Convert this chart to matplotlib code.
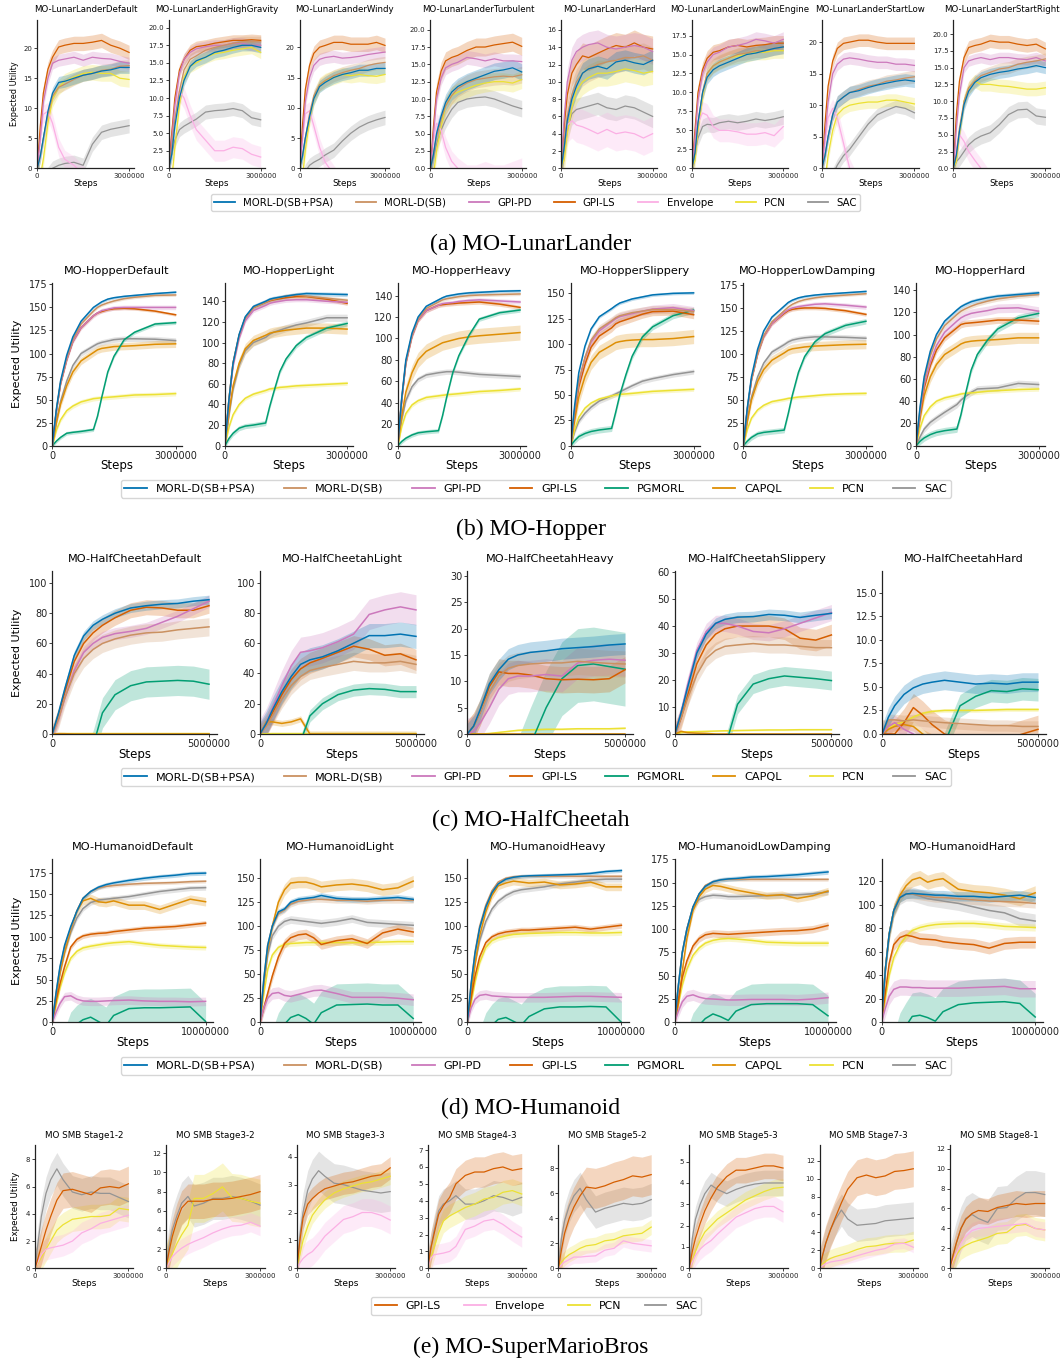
import numpy as np
import matplotlib
matplotlib.use("Agg")
import matplotlib.pyplot as plt
from matplotlib.lines import Line2D
from matplotlib.ticker import MultipleLocator

# ====================== DATA ======================
# each curve: (mean values at the step grid, half width of the shaded band)
LL_STEPS = [0, 1e5, 2e5, 3.5e5, 5e5, 7e5, 9e5, 1.2e6, 1.5e6, 1.8e6, 2.1e6, 2.4e6, 2.7e6, 3.0e6]
HOP_STEPS = [0, 1e5, 2e5, 3.5e5, 5e5, 7e5, 1.0e6, 1.1e6, 1.2e6, 1.35e6, 1.5e6, 1.75e6, 2.0e6, 2.5e6, 3.0e6]
HC_STEPS = [0, 2e5, 4e5, 7e5, 1.0e6, 1.3e6, 1.6e6, 2.0e6, 2.5e6, 3.0e6, 3.5e6, 4.0e6, 4.5e6, 5.0e6]
HUM_STEPS = [0, 2.5e5, 5e5, 8e5, 1.2e6, 1.6e6, 2.0e6, 2.5e6, 3.0e6, 3.5e6, 4.0e6, 5.0e6, 6.0e6, 7.0e6,
             8.0e6, 9.0e6, 10.0e6]
SMB_STEPS = [0, 1e5, 2e5, 3.5e5, 5e5, 7e5, 9e5, 1.2e6, 1.5e6, 1.8e6, 2.1e6, 2.4e6, 2.7e6, 3.0e6]

# ---- (a) MO-LunarLander ----
LL_DEFAULT = {
    "MORL-D(SB+PSA)": ([0, 2, 5, 9.5, 12.5, 14.3, 14.5, 15, 15.5, 15.8, 16.2, 16.4, 16.8, 16.8], 1.0),
    "MORL-D(SB)": ([0, 2, 5, 9, 12, 13.5, 14, 14.8, 15.5, 15.8, 16.3, 16.5, 17, 17.1], 1.0),
    "GPI-PD": ([0, 5, 11, 15, 17.5, 18, 18.2, 18.5, 18, 18.5, 18.3, 18.2, 17.8, 17.5], 1.0),
    "GPI-LS": ([0, 7, 12.5, 16.5, 18.5, 20.2, 20.5, 20.8, 20.8, 21.0, 21.3, 20.5, 20.0, 19.3], 1.2),
    "Envelope": ([0, 5, 9, 9.5, 7.5, 3.5, 1.5, 0.5, -1, -3, -5, -5, -5, -5], 1.5),
    "PCN": ([0, -1.5, 1.5, 7.5, 11.5, 13.5, 14.5, 15.2, 15.8, 16, 15.8, 15.8, 15, 14.8], 1.3),
    "SAC": ([-5, -5, -3, -1, 0, 0.5, 0.8, 1, 0.5, 4, 6, 6.5, 6.8, 7.1], 1.2),
}
LL_HIGHGRAVITY = {
    "MORL-D(SB+PSA)": ([0, 2, 6, 10, 12.5, 14.5, 15.3, 15.8, 16.5, 16.8, 17.2, 17.5, 17.5, 17.2], 0.8),
    "MORL-D(SB)": ([0, 3, 7, 11, 14, 15.5, 16, 16.8, 17.2, 17.5, 17.8, 18, 18, 18], 0.8),
    "GPI-PD": ([0, 4, 9, 13.5, 15.5, 16.5, 17, 17.3, 17.5, 17.5, 17.8, 17.8, 17.5, 17.5], 0.8),
    "GPI-LS": ([0, 5, 10, 14, 15.5, 16.8, 17.3, 17.5, 17.8, 18, 18.2, 18.2, 18.3, 18.2], 0.8),
    "Envelope": ([0, 5, 9, 11, 10, 7.5, 5.5, 4, 2.5, 2.5, 3, 2.8, 2, 1.6], 1.5),
    "PCN": ([0, -1.5, 3, 9, 13, 14.5, 15, 15.8, 16.3, 16.5, 16.8, 17, 17.2, 16.5], 0.9),
    "SAC": ([0, 2, 4, 5.5, 6, 6.5, 7, 8, 8.2, 8.3, 8.5, 8.2, 7.2, 6.9], 1.0),
}
LL_WINDY = {
    "MORL-D(SB+PSA)": ([0, 2, 5, 8.5, 11.5, 13.5, 14.2, 15, 15.5, 15.8, 16.2, 16.2, 16.5, 16.5], 1.0),
    "MORL-D(SB)": ([0, 2, 5, 9, 12, 13.8, 14.5, 15.3, 15.8, 16.2, 16.5, 17, 17.3, 17.5], 1.0),
    "GPI-PD": ([0, 5, 11, 15, 17, 18, 18.3, 18.5, 18.2, 18.3, 18.5, 18.8, 19, 19.2], 1.0),
    "GPI-LS": ([0, 7, 13, 17, 19, 20, 20.3, 20.8, 20.8, 20.5, 20.5, 20.5, 20.8, 20.3], 1.2),
    "Envelope": ([0, 5, 9, 9.5, 7, 3.5, 1, -1, -3, -5, -5, -5, -5, -5], 1.5),
    "PCN": ([0, -1.5, 3, 8, 11.5, 13.8, 14.5, 15, 15.5, 15.3, 15.5, 15.3, 15.2, 15.5], 1.2),
    "SAC": ([-3, -2, -0.5, 0.5, 1, 1.5, 2.2, 3, 4.5, 5.8, 6.8, 7.5, 8, 8.4], 1.2),
}
LL_TURBULENT = {
    "MORL-D(SB+PSA)": ([0, 2, 5, 7.5, 9.5, 11, 11.8, 12.5, 13, 13.5, 14, 14.2, 14.5, 13.9], 1.2),
    "MORL-D(SB)": ([0, 2, 4.5, 7, 9, 10.5, 11.5, 12.3, 12.8, 13, 13.2, 13.3, 13.2, 13.5], 1.2),
    "GPI-PD": ([0, 5, 10, 13, 14.5, 15, 15.3, 16, 15.8, 15.5, 15.8, 15.5, 15.5, 15.4], 1.0),
    "GPI-LS": ([0, 6, 11, 14, 15.5, 16, 16.3, 17, 17.5, 17.5, 17.8, 18, 18.2, 17.6], 1.3),
    "Envelope": ([0, 4, 6.5, 5.5, 3, 1, 0, -1, -1, -0.5, -1, -1, -0.5, 0], 1.5),
    "PCN": ([0, -1, 2.5, 6, 9, 10.5, 11, 11.5, 12, 12.3, 12.5, 12.5, 12.3, 12.8], 1.3),
    "SAC": ([0, 1.5, 3.5, 5.5, 7, 8.5, 9.5, 10, 10.2, 10.3, 10, 9.5, 9, 8.6], 1.2),
}
LL_HARD = {
    "MORL-D(SB+PSA)": ([0, 2.5, 5.5, 8, 9.5, 11, 11.5, 11.8, 11.5, 12.3, 12.5, 12.2, 12, 12.5], 1.2),
    "MORL-D(SB)": ([0, 3, 6, 8.5, 10, 11, 11.5, 12, 12.3, 12.5, 12.8, 12.8, 13, 12.5], 1.5),
    "GPI-PD": ([0, 6, 10, 12.5, 13.5, 14, 14.3, 14.5, 14, 13.8, 14, 14.2, 14, 13.5], 1.5),
    "GPI-LS": ([0, 5, 8.5, 11, 12, 13, 12.8, 13.3, 13.8, 14.2, 14, 14.5, 14, 13.8], 1.5),
    "Envelope": ([0, 3, 5, 5.5, 5, 4.8, 4.5, 4, 4.5, 4, 4.2, 4, 3.5, 4], 2.0),
    "PCN": ([0, 1, 4, 7, 9, 10, 10.5, 11, 11, 11.2, 11.5, 11.3, 11, 11.2], 1.5),
    "SAC": ([0, 2, 4.5, 6.3, 6.8, 7, 7.2, 7.5, 7, 6.8, 7.2, 7, 6.5, 6], 1.3),
}
LL_LOWMAIN = {
    "MORL-D(SB+PSA)": ([0, 2, 6, 10, 12, 13, 13.5, 14, 14.5, 15, 15.2, 15.5, 15.8, 16], 0.9),
    "MORL-D(SB)": ([0, 2, 6, 10, 12.5, 13.5, 14, 14.5, 15, 15.2, 15.5, 15.5, 15.8, 16], 0.9),
    "GPI-PD": ([0, 4, 9, 12.5, 14, 15, 15.3, 16, 16.2, 16.5, 17, 16.8, 16.5, 17], 1.0),
    "GPI-LS": ([0, 5, 10, 13, 14.5, 15.3, 15.5, 16, 16.2, 16, 16.2, 16.3, 16.5, 16.5], 1.0),
    "Envelope": ([0, 3, 6, 7.3, 7, 5.5, 5, 5, 4.8, 4.5, 4.5, 4.7, 4.3, 5.5], 1.5),
    "PCN": ([0, 1, 5, 9.5, 12.5, 13.5, 14, 14.5, 14.8, 15, 15.3, 15.3, 15.5, 15.5], 1.0),
    "SAC": ([0, 2, 4, 5.5, 5.8, 5.7, 6, 6.2, 6, 6.2, 6.5, 6.3, 6.5, 6.8], 1.0),
}
LL_STARTLOW = {
    "MORL-D(SB+PSA)": ([0, 2, 5, 8.5, 10.5, 11.3, 12, 12.3, 12.8, 13.2, 13.5, 13.8, 14, 13.8], 1.0),
    "MORL-D(SB)": ([0, 2, 5, 8.5, 10.5, 11.3, 12, 12.5, 13, 13.3, 13.8, 14, 14.3, 14.5], 1.0),
    "GPI-PD": ([0, 5, 10.5, 15, 16.5, 17.3, 17.5, 17.3, 17, 16.8, 16.8, 16.5, 16.5, 16.3], 1.0),
    "GPI-LS": ([0, 7, 13, 17, 19, 19.8, 20, 20.3, 20.3, 20, 19.8, 19.8, 19.8, 19.8], 1.0),
    "Envelope": ([0, 4, 8, 9.5, 8, 4, 0, -3, -5, -5, -5, -5, -5, -5], 1.5),
    "PCN": ([0, -2, 2, 6, 8.5, 9.5, 10, 10.3, 10.5, 10.5, 10.8, 10.8, 10.5, 10.2], 1.0),
    "SAC": ([-5, -5, -3, -1, 0.5, 2, 3, 5, 7, 8.5, 9.2, 9.8, 9.5, 8.8], 1.0),
}
LL_STARTRIGHT = {
    "MORL-D(SB+PSA)": ([0, 2, 5.5, 9.5, 11.5, 12.8, 13.5, 14, 14.3, 14.5, 14.8, 15, 15.3, 15], 0.9),
    "MORL-D(SB)": ([0, 2, 6, 10, 12, 13, 13.8, 14.3, 14.8, 15, 15.5, 15.8, 16, 16.3], 0.9),
    "GPI-PD": ([0, 6, 11, 15, 16, 16.3, 16.5, 16.2, 16.5, 16.5, 16.3, 16.2, 16.5, 16], 0.8),
    "GPI-LS": ([0, 8, 13, 16.5, 18, 18.3, 18.5, 19, 18.8, 18.8, 18.5, 18.3, 18.5, 17.8], 1.0),
    "Envelope": ([0, 3, 5, 4, 2.5, 1.2, 0, -2, -4, -5, -5, -5, -5, -5], 1.5),
    "PCN": ([0, 1, 5, 10, 12, 13, 12.5, 12.5, 12.3, 12.2, 12, 11.8, 11.8, 12], 1.0),
    "SAC": ([0, 1, 1.5, 2.5, 3.5, 4.3, 4.8, 5.3, 6.5, 8, 8.7, 8.8, 7.8, 7.6], 1.2),
}

# ---- (b) MO-Hopper ----
HOP_DEFAULT = {
    "MORL-D(SB+PSA)": ([0, 40, 70, 98, 118, 135, 150, 153, 156, 159, 160.5, 162, 163, 165, 166.5], 1.5),
    "MORL-D(SB)": ([0, 38, 68, 95, 115, 132, 146, 150, 152.5, 155, 157, 159.5, 161, 163, 163.5], 1.5),
    "GPI-PD": ([0, 38, 67, 93, 113, 128, 141, 144, 146.5, 148, 149.5, 150, 150, 150, 150], 2.5),
    "GPI-LS": ([0, 38, 67, 93, 113, 128, 141, 144, 145.5, 147.5, 148.5, 149, 148.5, 146, 142], 1.5),
    "PGMORL": ([0, 5, 9, 13.5, 14.5, 15.5, 17.5, 32, 52, 80, 97, 115, 123, 132, 133.5], 2.0),
    "CAPQL": ([0, 25, 45, 65, 80, 92, 101, 104, 105.5, 106.5, 107.5, 108, 108.5, 110, 110.5], 4.0),
    "PCN": ([0, 17, 28, 38, 43, 47.5, 51, 51.5, 52, 52.5, 53, 54, 55, 55.5, 56.5], 2.5),
    "SAC": ([0, 27, 48, 70, 87, 100, 108, 110.5, 112, 113.5, 115, 116, 116, 115.5, 114], 3.0),
}
HOP_LIGHT = {
    "MORL-D(SB+PSA)": ([0, 45, 80, 108, 125, 135, 140, 142, 143, 144, 145, 146.5, 147.5, 147, 146.5], 2.0),
    "MORL-D(SB)": ([0, 45, 80, 107, 124, 134, 139, 141, 142, 143.5, 145, 146, 145, 143, 141], 2.0),
    "GPI-PD": ([0, 43, 77, 104, 121, 131, 136, 138, 139, 140, 141, 141.5, 141.5, 140, 139], 2.0),
    "GPI-LS": ([0, 45, 80, 107, 124, 134, 139, 140.5, 141.5, 142.5, 143.5, 144.5, 144.5, 142, 138], 2.0),
    "PGMORL": ([0, 7, 12, 17, 19, 20, 22, 38, 52, 72, 84, 97, 105, 114, 118.5], 2.5),
    "CAPQL": ([0, 32, 58, 80, 94, 102, 107, 109, 110, 111, 112, 113, 114, 114, 113], 5.0),
    "PCN": ([0, 18, 30, 40, 46, 50, 53.5, 55, 55.5, 56.5, 57, 58, 58.5, 59.5, 60.5], 2.0),
    "SAC": ([0, 30, 55, 78, 92, 100, 105, 108, 110, 112, 114, 117, 119, 124, 124], 3.5),
}
HOP_HEAVY = {
    "MORL-D(SB+PSA)": ([0, 45, 80, 105, 120, 130, 136, 138, 139.5, 140.5, 141.5, 142.5, 143, 144, 144.5], 1.5),
    "MORL-D(SB)": ([0, 44, 78, 103, 118, 128, 134, 136, 137, 138, 139, 140, 140.5, 141, 141.5], 1.5),
    "GPI-PD": ([0, 43, 77, 102, 117, 126, 131, 132.5, 133, 133.5, 134.5, 135.5, 136, 135, 134], 2.0),
    "GPI-LS": ([0, 43, 77, 102, 117, 126, 131, 131.5, 132, 132.5, 133, 133.5, 134, 132, 129], 2.0),
    "PGMORL": ([0, 4, 7, 10, 12, 13, 14, 28, 45, 68, 84, 103, 118, 124, 126.5], 2.0),
    "CAPQL": ([0, 28, 50, 68, 80, 88, 94, 96, 97, 98.5, 100, 101.5, 102.5, 104, 105.5], 7.0),
    "PCN": ([0, 18, 30, 38, 42, 45, 46.5, 47, 47.5, 48, 48.5, 49.5, 50.5, 51.5, 53], 2.0),
    "SAC": ([0, 25, 42, 55, 62, 66, 68, 68.5, 69, 69, 68.5, 67.5, 66.5, 65.5, 64.5], 2.5),
}
HOP_SLIPPERY = {
    "MORL-D(SB+PSA)": ([0, 40, 72, 98, 115, 127, 135, 138, 140.5, 142.5, 144.5, 146.5, 148.5, 150, 150.5], 1.5),
    "MORL-D(SB)": ([0, 36, 64, 87, 104, 115, 123, 126, 128, 129.5, 131, 132.5, 134, 134, 132], 4.0),
    "GPI-PD": ([0, 35, 62, 86, 102, 113, 122, 125, 127, 128.5, 130, 132.5, 134.5, 136, 133], 4.0),
    "GPI-LS": ([0, 32, 58, 80, 97, 108, 116, 120, 122, 124, 126, 129.5, 132, 132.5, 129], 4.0),
    "PGMORL": ([0, 5, 9, 12, 14, 15.5, 17, 33, 50, 70, 88, 107, 117, 128, 133.5], 3.0),
    "CAPQL": ([0, 25, 48, 68, 82, 92, 99, 101.5, 102.5, 103.5, 104, 104.5, 104.5, 105.5, 107.5], 7.0),
    "PCN": ([0, 16, 28, 37, 42, 46, 49, 50, 50.5, 51, 51.5, 52.5, 53.5, 54.5, 55.5], 2.0),
    "SAC": ([0, 14, 24, 32, 38, 44, 49, 51, 53, 56, 59, 63.5, 66, 70, 73], 2.5),
}
HOP_LOWDAMPING = {
    "MORL-D(SB+PSA)": ([0, 42, 75, 105, 125, 140, 152, 156, 158.5, 161, 162.5, 164, 165, 166.5, 168], 1.5),
    "MORL-D(SB)": ([0, 40, 72, 100, 120, 135, 147, 151, 154, 157, 159, 161, 162.5, 164, 165.5], 1.5),
    "GPI-PD": ([0, 40, 72, 100, 119, 133, 145, 148, 150, 151.5, 152.5, 154, 154.5, 153, 151], 2.5),
    "GPI-LS": ([0, 40, 72, 100, 119, 133, 144, 147, 148.5, 149.5, 150, 150, 149.5, 147, 143], 2.0),
    "PGMORL": ([0, 5, 9, 13, 14.5, 15.5, 17, 35, 55, 80, 97, 113, 122, 131, 135.5], 3.0),
    "CAPQL": ([0, 27, 50, 70, 83, 93, 101, 104, 105.5, 106.5, 107.5, 108.5, 109, 110, 110.5], 5.0),
    "PCN": ([0, 18, 30, 39, 44, 48, 50.5, 51.5, 52, 53, 53.5, 54.5, 55.5, 56.5, 57], 2.0),
    "SAC": ([0, 29, 53, 75, 90, 102, 110, 113, 115, 116.5, 117.5, 118.5, 118.5, 118, 117], 3.0),
}
HOP_HARD = {
    "MORL-D(SB+PSA)": ([0, 35, 62, 85, 100, 112, 122, 125, 127, 129.5, 131, 133, 134.5, 136, 137.5], 2.0),
    "MORL-D(SB)": ([0, 33, 59, 81, 96, 108, 118, 121, 123, 125.5, 127.5, 130, 132, 134.5, 136], 2.0),
    "GPI-PD": ([0, 30, 55, 75, 90, 102, 112, 115, 117, 119, 120, 121.5, 123.5, 124, 121], 4.0),
    "GPI-LS": ([0, 28, 52, 72, 86, 97, 106, 109, 110, 110.5, 111, 112, 113, 113, 112], 3.0),
    "PGMORL": ([0, 4, 7, 10, 12, 13.5, 15, 28, 45, 68, 82, 95, 105, 115, 119], 3.0),
    "CAPQL": ([0, 25, 45, 62, 73, 82, 89, 91.5, 93, 94, 94.5, 95, 95.5, 97, 97], 5.0),
    "PCN": ([0, 16, 27, 35, 40, 43, 45.5, 46.5, 47, 47.5, 48, 49, 49.5, 50.5, 51], 2.0),
    "SAC": ([0, 8, 15, 21, 25, 30, 37, 41, 44, 48, 51, 51.5, 52, 56, 55], 3.0),
}

# ---- (c) MO-HalfCheetah ----
HC_DEFAULT = {
    "MORL-D(SB+PSA)": ([0, 14, 30, 52, 65, 72, 76, 80, 83.5, 85, 86, 86.5, 88, 89], 3.0),
    "MORL-D(SB)": ([0, 10, 24, 40, 50, 56, 60, 63, 65.5, 67, 67.5, 69, 70, 71], 6.0),
    "GPI-PD": ([0, 10, 24, 42, 54, 60, 64, 66.5, 68, 70, 74, 78, 83, 88], 4.0),
    "GPI-LS": ([0, 13, 28, 48, 60, 67, 72, 77, 82, 84, 83.5, 82, 82, 85], 5.0),
    "PGMORL": ([-20, -20, -20, -20, -20, -8, 14, 26, 32, 34.5, 35, 35.5, 35, 33], 10.0),
    "CAPQL": ([0, 0.3, 0.2, 0, 0, 0, 0, 0, 0, 0, 0, 0, 0, 0], 0.3),
    "PCN": ([0, 0.2, 0.3, 0.3, 0.3, 0.3, 0.3, 0.3, 0.3, 0.3, 0.3, 0.3, 0.3, 0.3], 0.2),
}
HC_LIGHT = {
    "MORL-D(SB+PSA)": ([0, 7, 16, 28, 38, 46, 49, 51, 55, 60, 65, 65, 66, 64.5], 8.0),
    "MORL-D(SB)": ([0, 5, 12, 23, 32, 38, 42, 44, 46, 48, 47, 47, 48, 46], 6.0),
    "GPI-PD": ([0, 7, 17, 32, 45, 54, 55, 57, 61, 66, 79, 82, 84, 82], 10.0),
    "GPI-LS": ([0, 6, 14, 26, 36, 43, 47, 50, 54, 58, 56, 52, 53, 49], 7.0),
    "PGMORL": ([-20, -20, -20, -20, -20, -5, 12, 20, 26, 29, 30, 29.5, 28, 28], 4.0),
    "CAPQL": ([0, 8, 8, 7, 8, 10, 0, 0, 0, 0, 0, 0, 0, 0], 2.0),
    "PCN": ([0, 0.2, 0.3, 0.3, 0.3, 0.3, 0.3, 0.3, 0.3, 0.3, 0.3, 0.3, 0.3, 0.3], 0.2),
}
HC_HEAVY = {
    "MORL-D(SB+PSA)": ([0, 1.5, 4.5, 9.5, 12.2, 14.2, 15, 15.5, 15.8, 16.2, 16.4, 16.6, 16.9, 17.1], 2.0),
    "MORL-D(SB)": ([0, 1.5, 4, 8, 11, 12.5, 13, 13.3, 13.5, 13.5, 13.8, 13.6, 13.4, 13.3], 2.5),
    "GPI-PD": ([0, 0.5, 2, 5, 8.5, 10.5, 11, 11, 11.3, 11, 13.5, 14, 14.2, 14], 3.0),
    "GPI-LS": ([0, 1.5, 4, 9, 11.8, 11.5, 11.5, 11.2, 10.5, 10.3, 10.4, 10.3, 10.5, 12.2], 2.5),
    "PGMORL": ([-10, -10, -10, -10, -10, -10, -8, -2, 5, 10.5, 13, 13.3, 12.8, 12.3], 7.0),
    "CAPQL": ([0, 0, 0, 0, 0, 0, 0, 0, 0, 0, 0, 0, 0, 0], 0.2),
    "PCN": ([0, 0, 0, 0.1, 0.3, 0.5, 0.7, 0.8, 0.9, 0.9, 1, 1, 1, 1.1], 0.2),
}
HC_SLIPPERY = {
    "MORL-D(SB+PSA)": ([0, 8, 17, 30, 37, 41, 42.5, 43.3, 43.5, 44.3, 44, 43.2, 44, 44.7], 2.0),
    "MORL-D(SB)": ([0, 6, 13, 22, 28, 31, 32.5, 33, 33.5, 33, 33, 32.5, 32, 32], 3.0),
    "GPI-PD": ([0, 8, 18, 31, 38, 41, 41, 40, 38, 37.5, 39, 41, 43, 45], 3.0),
    "GPI-LS": ([0, 6, 14, 26, 33, 37, 39, 40, 40, 40, 39, 35.5, 34.8, 36.7], 4.0),
    "PGMORL": ([-10, -10, -10, -10, -10, -10, -5, 11, 18.5, 20.5, 21.5, 21, 20.5, 19.8], 3.5),
    "CAPQL": ([0, 1, 0.5, 0.3, 0.2, 0, 0, 0, 0, 0, 0, 0, 0, 0], 0.5),
    "PCN": ([0, 0.5, 0.8, 0.9, 1, 1.1, 1.2, 1.3, 1.4, 1.5, 1.5, 1.6, 1.6, 1.6], 0.3),
}
HC_HARD = {
    "MORL-D(SB+PSA)": ([0, 1.8, 3.0, 4.2, 4.9, 5.3, 5.5, 5.7, 5.5, 5.3, 5.4, 5.3, 5.5, 5.5], 1.0),
    "MORL-D(SB)": ([0, 1.5, 1.5, 1.4, 1.5, 1.4, 1.3, 1.2, 1.1, 1.0, 0.9, 0.9, 0.8, 0.8], 0.6),
    "GPI-PD": ([0, 0.8, 1.2, 0.5, 0, -1, -1, -1, -1, -1, -1, -1, -1, -1], 0.8),
    "GPI-LS": ([0, 0, 0, 1.2, 2.8, 2, 1, 0, -0.5, -0.5, -0.5, -0.5, 0, 0.5], 1.5),
    "PGMORL": ([-3, -3, -3, -3, -3, -3, -3, -1, 3, 4, 4.6, 4.5, 4.8, 4.7], 1.2),
    "CAPQL": ([0, 0.5, 0.8, 1.0, 0.8, 0, -0.5, -0.5, -0.5, -0.5, -0.5, -0.5, -0.5, -0.5], 0.5),
    "PCN": ([0, 0.6, 1, 1.3, 1.8, 2.2, 2.4, 2.5, 2.5, 2.5, 2.55, 2.6, 2.6, 2.6], 0.2),
}

# ---- (d) MO-Humanoid ----
HUM_DEFAULT = {
    "MORL-D(SB+PSA)": ([0, 35, 65, 90, 112, 130, 145, 153, 158, 161, 163, 166, 168.5, 170.5, 172, 174, 174.5], 2.5),
    "MORL-D(SB)": ([0, 35, 64, 88, 110, 130, 145, 153, 157, 159, 160, 161.5, 162.5, 163, 163.5, 164.5, 165], 2.0),
    "GPI-PD": ([0, 12, 22, 30, 31, 27, 25, 24.5, 24.5, 25, 25.5, 26, 25, 24.5, 24.5, 24, 24.5], 5.0),
    "GPI-LS": ([0, 25, 45, 65, 88, 97, 101, 103, 104, 104.5, 106, 108, 110, 111, 112, 114, 116], 3.0),
    "PGMORL": ([-30, -30, -30, -30, -10, -2, 3, 6, 1, -4, 8, 16, 17, 17, 17.5, 18, 1], 22.0),
    "CAPQL": ([0, 30, 58, 82, 108, 130, 142, 145, 141, 140, 142, 137, 137, 132, 138, 144, 141], 5.0),
    "PCN": ([0, 20, 40, 58, 75, 83, 87, 89, 90.5, 92, 93, 94.3, 92, 90, 89, 88, 87.5], 3.0),
    "SAC": ([0, 30, 58, 82, 105, 122, 133, 140, 143, 144, 145, 147, 150, 153, 155, 157, 157.5], 3.0),
}
HUM_LIGHT = {
    "MORL-D(SB+PSA)": ([0, 45, 80, 100, 115, 118, 125, 128, 129, 130, 132, 129, 128, 128, 129, 130, 128], 3.0),
    "MORL-D(SB)": ([0, 45, 80, 100, 113, 117, 123, 126, 127, 128, 128, 127, 127, 126, 127, 127, 127], 3.0),
    "GPI-PD": ([0, 15, 25, 30, 31, 28, 27, 29, 31, 33, 33.5, 30, 26, 26, 26, 25, 23.5], 6.0),
    "GPI-LS": ([0, 15, 30, 48, 68, 82, 88, 91, 92, 88, 81, 85, 87, 82, 93, 97, 94], 5.0),
    "PGMORL": ([-30, -30, -30, -30, -12, -2, 5, 8, 4, -2, 10, 18, 18.5, 19, 18, 18, 4], 22.0),
    "CAPQL": ([0, 40, 75, 100, 125, 138, 145, 146, 146, 144, 141, 143, 144, 142, 138, 140, 147], 6.0),
    "PCN": ([0, 30, 55, 70, 78, 81, 82, 82.5, 83, 83, 83, 83, 83, 83, 83.5, 84, 84], 3.0),
    "SAC": ([0, 40, 70, 90, 100, 105, 107, 106, 105, 104, 103, 105, 108, 104, 103, 102, 101], 4.0),
}
HUM_HEAVY = {
    "MORL-D(SB+PSA)": ([0, 40, 72, 98, 120, 135, 144, 149, 151, 152, 152.5, 153, 153.5, 154, 155, 157, 158], 2.0),
    "MORL-D(SB)": ([0, 40, 73, 100, 122, 137, 146, 150, 151.5, 152, 152, 152, 152, 152, 152, 152, 152], 2.0),
    "GPI-PD": ([0, 15, 24, 28, 29, 27.5, 27, 26.5, 26, 26, 26, 26, 26.5, 27, 27, 26.5, 26], 5.0),
    "GPI-LS": ([0, 25, 48, 68, 83, 89, 92, 94, 95, 96, 96, 97, 98, 99, 97, 99, 101], 3.0),
    "PGMORL": ([-30, -30, -30, -30, -12, -3, 3, 5, 1, -3, 6, 14, 16, 16, 16.5, 16, 0], 22.0),
    "CAPQL": ([0, 30, 60, 90, 115, 132, 142, 145, 147, 146, 145, 146, 143, 144, 146, 141, 141], 4.0),
    "PCN": ([0, 20, 42, 62, 78, 85, 88, 90, 91.5, 92, 92.5, 93, 93.5, 93.5, 93, 93, 93.5], 3.0),
    "SAC": ([0, 35, 62, 85, 105, 118, 126, 132, 136, 138, 139, 141, 144, 146, 148, 149, 149], 3.0),
}
HUM_LOWDAMPING = {
    "MORL-D(SB+PSA)": ([0, 40, 75, 100, 124, 138, 146, 151, 153, 154, 154.5, 156, 156.5, 157.5, 158.5, 160, 161.5], 2.5),
    "MORL-D(SB)": ([0, 40, 75, 100, 124, 138, 147, 151, 153, 153.5, 153.5, 153.5, 153.5, 153.5, 153.5, 153.5, 153.5], 2.0),
    "GPI-PD": ([0, 12, 22, 28, 29.5, 27, 25.5, 25, 24.5, 24, 24, 24.5, 24.5, 24.5, 24, 25, 26.5], 6.0),
    "GPI-LS": ([0, 25, 48, 66, 82, 90, 94, 95.5, 95, 94.5, 95, 96, 97, 98, 98.5, 100, 104], 4.0),
    "PGMORL": ([-30, -30, -30, -30, -12, -3, 4, 9, 6, 2, 12, 19, 20, 20, 20, 19, 7], 22.0),
    "CAPQL": ([0, 20, 55, 90, 120, 135, 143, 147, 146, 144, 142, 139, 136, 137, 133, 136, 141], 4.0),
    "PCN": ([0, 20, 40, 57, 72, 80, 85, 88, 89.5, 90, 89.5, 88, 86, 85.5, 85, 85, 85], 3.0),
    "SAC": ([0, 40, 75, 100, 124, 132, 135, 136.5, 136, 135, 135, 135.5, 136, 136.5, 137, 138, 140], 3.0),
}
HUM_HARD = {
    "MORL-D(SB+PSA)": ([0, 45, 75, 95, 106, 109, 109.5, 109, 108.5, 108, 108, 107, 107, 106, 107, 108, 106], 4.0),
    "MORL-D(SB)": ([0, 45, 75, 95, 106, 109, 109, 108, 107, 106, 106, 105, 104, 103, 102.5, 102, 101], 4.0),
    "GPI-PD": ([0, 12, 22, 28, 30, 30, 29.5, 29.5, 29, 29, 29, 29, 29.5, 30, 30.5, 28.5, 28.5], 7.0),
    "GPI-LS": ([0, 25, 50, 66, 72, 74, 73, 71, 70.5, 70, 68.5, 67, 66, 63, 67, 68, 68], 5.0),
    "PGMORL": ([-30, -30, -30, -30, -12, -3, 5, 6, 4, 1, 9, 15, 16.5, 17, 17.5, 16, 4.5], 20.0),
    "CAPQL": ([0, 45, 75, 95, 108, 116, 121, 123, 119, 121, 122, 113, 111, 110, 108, 105, 110], 6.0),
    "PCN": ([0, 20, 40, 55, 66, 73, 78, 80.5, 82, 83, 83.5, 84, 84, 83, 81.5, 81, 80.5], 3.0),
    "SAC": ([0, 45, 75, 95, 106, 109, 109, 107, 105, 104, 103, 101, 98, 95, 93, 88, 86], 6.0),
}

# ---- (e) MO-SuperMarioBros ----
SMB_1_2 = {
    "GPI-LS": ([0, 0.8, 1.6, 2.8, 3.8, 5.0, 5.7, 5.8, 5.6, 5.4, 5.9, 6.0, 5.9, 6.2], 1.3),
    "Envelope": ([0, 0.5, 1, 1.4, 1.5, 1.6, 1.7, 2.0, 2.6, 2.9, 3.3, 3.5, 3.7, 3.9], 0.8),
    "PCN": ([0, 0.4, 0.8, 1.4, 2.0, 2.8, 3.2, 3.6, 3.7, 3.8, 3.8, 3.9, 4.4, 4.3], 0.9),
    "SAC": ([0, 2, 3.8, 5.5, 6.5, 7.3, 6.5, 5.6, 5.4, 5.6, 5.5, 5.5, 5.2, 4.9], 1.2),
}
SMB_3_2 = {
    "GPI-LS": ([0, 1.8, 3.3, 5, 6.3, 7, 7.0, 7.0, 7.2, 7.2, 7.3, 7.5, 7.7, 8.0], 1.8),
    "Envelope": ([0, 0.6, 1.2, 1.7, 2.1, 2.5, 2.8, 3.2, 3.7, 4.1, 4.4, 4.5, 4.8, 4.4], 1.0),
    "PCN": ([0, 0.8, 1.5, 2.6, 3.5, 4.5, 7.3, 7.3, 7.8, 8.5, 7.4, 7.3, 7.0, 6.8], 2.5),
    "SAC": ([0, 2.3, 4, 5.5, 6.8, 7.5, 6.5, 6.8, 7.3, 7.3, 7.5, 7.3, 7.0, 6.6], 2.2),
}
SMB_3_3 = {
    "GPI-LS": ([0, 1.0, 1.8, 2.3, 2.5, 2.7, 2.85, 2.95, 3.05, 3.1, 3.2, 3.3, 3.35, 3.6], 0.4),
    "Envelope": ([0, 0.2, 0.35, 0.5, 0.6, 0.85, 1.15, 1.45, 1.75, 1.85, 2.0, 2.0, 1.9, 1.73], 0.5),
    "PCN": ([0, 0.5, 1.0, 1.5, 1.9, 2.2, 2.45, 2.7, 2.85, 2.95, 3.05, 3.1, 3.2, 3.3], 0.3),
    "SAC": ([0, 1.2, 2, 2.8, 3.2, 3.5, 3.3, 3.05, 3.0, 2.9, 2.8, 2.75, 2.7, 2.75], 0.7),
}
SMB_4_3 = {
    "GPI-LS": ([0, 1.2, 2.0, 3.2, 3.7, 4.2, 5.0, 5.5, 5.7, 5.7, 5.9, 6.0, 5.8, 5.9], 0.9),
    "Envelope": ([0, 0.6, 0.8, 0.85, 0.9, 1.0, 1.3, 2.3, 2.5, 2.8, 2.9, 2.6, 2.2, 1.85], 0.6),
    "PCN": ([0, 0.6, 1.2, 2.1, 2.8, 3.1, 3.3, 3.6, 3.8, 4.1, 4.2, 4.5, 4.6, 4.4], 0.7),
    "SAC": ([0, 1.2, 2.2, 3.4, 3.8, 4.0, 4.3, 3.8, 3.8, 4.0, 4.3, 4.2, 4.0, 4.2], 0.9),
}
SMB_5_2 = {
    "GPI-LS": ([0, 1.5, 2.8, 4.0, 4.9, 5.8, 6.5, 6.4, 6.6, 6.9, 7.1, 7.4, 7.3, 7.5], 1.6),
    "Envelope": ([0, 0.3, 0.5, 0.7, 0.9, 0.9, 0.95, 1.0, 1.45, 1.6, 2.2, 2.0, 1.9, 1.8], 0.5),
    "PCN": ([0, 0.5, 0.8, 1.1, 1.3, 1.6, 1.8, 1.9, 2.2, 2.3, 2.6, 2.7, 2.8, 3.3], 0.6),
    "SAC": ([0, 2.4, 3.8, 5.0, 5.8, 6.4, 5.5, 4.5, 4.8, 5.0, 5.2, 5.1, 5.2, 5.5], 1.3),
}
SMB_5_3 = {
    "GPI-LS": ([0, 0.8, 1.4, 2.1, 2.7, 3.3, 3.8, 4.3, 4.6, 4.6, 4.7, 4.8, 4.8, 4.7], 0.6),
    "Envelope": ([0, 0.3, 0.6, 0.9, 1.1, 1.3, 1.6, 2.0, 2.4, 2.6, 2.8, 2.9, 2.9, 2.65], 0.5),
    "PCN": ([0, 0.4, 0.8, 1.3, 1.7, 2.0, 2.3, 2.6, 2.9, 3.2, 3.4, 3.6, 3.75, 3.8], 0.4),
    "SAC": ([0, 1.4, 2.3, 3.0, 3.5, 3.9, 3.7, 3.5, 3.7, 3.85, 3.95, 4.0, 4.0, 4.0], 0.6),
}
SMB_7_3 = {
    "GPI-LS": ([0, 1.5, 2.8, 4.3, 5.6, 7.3, 8.8, 10.1, 10.4, 10.1, 10.3, 10.8, 10.9, 11.1], 2.0),
    "Envelope": ([0, 0.3, 0.5, 0.7, 0.8, 0.9, 1.1, 1.4, 1.7, 2.0, 2.2, 2.7, 2.8, 2.35], 0.6),
    "PCN": ([0, 0.5, 0.8, 1.1, 1.3, 1.5, 1.7, 2.1, 2.4, 2.5, 2.7, 2.8, 2.8, 3.15], 1.0),
    "SAC": ([0, 1.4, 2.8, 4.3, 5.4, 6.5, 5.5, 4.8, 4.9, 5.0, 5.3, 5.4, 5.5, 5.6], 1.8),
}
SMB_8_1 = {
    "GPI-LS": ([0, 1.3, 2.5, 4.0, 4.9, 5.5, 5.8, 5.7, 6.1, 6.3, 6.5, 6.4, 6.5, 6.5], 1.3),
    "Envelope": ([0, 0.8, 1.5, 2.5, 3.2, 3.8, 4.0, 4.1, 4.2, 4.3, 4.4, 4.5, 4.0, 3.85], 0.8),
    "PCN": ([0, 0.6, 1.3, 2.0, 2.3, 2.6, 2.8, 3.1, 3.5, 3.6, 4.3, 4.4, 4.0, 3.85], 1.1),
    "SAC": ([0, 1.3, 2.5, 4.0, 5.0, 5.4, 5.0, 4.6, 6.0, 6.1, 7.0, 7.6, 7.6, 7.4], 2.2),
}

# Titles, legend orders, ticks
LL_TITLES = ["MO-LunarLanderDefault", "MO-LunarLanderHighGravity", "MO-LunarLanderWindy",
             "MO-LunarLanderTurbulent", "MO-LunarLanderHard", "MO-LunarLanderLowMainEngine",
             "MO-LunarLanderStartLow", "MO-LunarLanderStartRight"]
HOP_TITLES = ["MO-HopperDefault", "MO-HopperLight", "MO-HopperHeavy", "MO-HopperSlippery",
              "MO-HopperLowDamping", "MO-HopperHard"]
HC_TITLES = ["MO-HalfCheetahDefault", "MO-HalfCheetahLight", "MO-HalfCheetahHeavy",
             "MO-HalfCheetahSlippery", "MO-HalfCheetahHard"]
HUM_TITLES = ["MO-HumanoidDefault", "MO-HumanoidLight", "MO-HumanoidHeavy",
              "MO-HumanoidLowDamping", "MO-HumanoidHard"]
SMB_TITLES = ["MO SMB Stage1-2", "MO SMB Stage3-2", "MO SMB Stage3-3", "MO SMB Stage4-3",
              "MO SMB Stage5-2", "MO SMB Stage5-3", "MO SMB Stage7-3", "MO SMB Stage8-1"]

ORDER_LL = ["MORL-D(SB+PSA)", "MORL-D(SB)", "GPI-PD", "GPI-LS", "Envelope", "PCN", "SAC"]
ORDER_MUJOCO = ["MORL-D(SB+PSA)", "MORL-D(SB)", "GPI-PD", "GPI-LS", "PGMORL", "CAPQL", "PCN", "SAC"]
ORDER_SMB = ["GPI-LS", "Envelope", "PCN", "SAC"]

XTICKS_3M = [0, 3000000]
XTICKS_5M = [0, 5000000]
XTICKS_10M = [0, 10000000]
XTICKLABELS_3M = ["0", "3000000"]
XTICKLABELS_5M = ["0", "5000000"]
XTICKLABELS_10M = ["0", "10000000"]

LL_YMAX = [24.7, 21.1, 24.5, 21.4, 17.15, 19.55, 23.5, 22.1]
LL_YSTEP = [5, 2.5, 5, 2.5, 2, 2.5, 5, 2.5]
HOP_YMAX = [176.8, 158, 152, 160.5, 177.5, 146.6]
HOP_YSTEP = [25, 20, 20, 25, 25, 20]
HC_YMAX = [108, 107.7, 30.95, 60.4, 17.3]
HC_YSTEP = [20, 20, 5, 10, 2.5]
HUM_YMAX = [191, 170, 170, 175.4, 138.7]
HUM_YSTEP = [25, 25, 25, 25, 20]
SMB_YMAX = [9.05, 12.87, 4.42, 7.3, 9.87, 5.78, 13.75, 12.37]
SMB_YSTEP = [2, 2, 1, 1, 2, 1, 2, 2]

CAPTIONS = ["(a) MO-LunarLander", "(b) MO-Hopper", "(c) MO-HalfCheetah", "(d) MO-Humanoid",
            "(e) MO-SuperMarioBros"]

# ====================== STYLE ======================
COLORS = {
    "MORL-D(SB+PSA)": "#0173b2",
    "MORL-D(SB)": "#ca9161",
    "GPI-PD": "#cc78bc",
    "GPI-LS": "#d55e00",
    "PGMORL": "#029e73",
    "CAPQL": "#de8f05",
    "PCN": "#ece133",
    "SAC": "#949494",
    "Envelope": "#fbafe4",
}

W, H = 1061, 1361
fig = plt.figure(figsize=(W / 100, H / 100), dpi=100)


def add_ax(left, right, top, bottom):
    return fig.add_axes([left / W, 1 - bottom / H, (right - left) / W, (bottom - top) / H])


def draw_row(envs, titles, steps, order, lefts, tickpos, xticks, xticklabels, top, bottom,
             title_y, steps_y, ylab_x, ymaxes, ysteps, fs):
    x = np.array(steps, dtype=float)
    xmax = xticks[-1]
    h = bottom - top
    for i, (env, title) in enumerate(zip(envs, titles)):
        left = lefts[i]
        right = left + (tickpos[i] - left) * 1.05
        ax = add_ax(left, right, top, bottom)
        for name in reversed(order):
            if name not in env:
                continue
            vals, band = env[name]
            y = np.array(vals, dtype=float)
            ax.fill_between(x, y - band, y + band, color=COLORS[name], alpha=0.25, lw=0)
            ax.plot(x, y, color=COLORS[name], lw=fs["lw"])
        ax.set_xlim(0, xmax * 1.05)
        ax.set_ylim(0, ymaxes[i])
        ax.yaxis.set_major_locator(MultipleLocator(ysteps[i]))
        ax.set_xticks(xticks)
        ax.set_xticklabels(xticklabels)
        ax.tick_params(labelsize=fs["tick"], length=2, width=0.6, pad=1.5, colors="#222222")
        for s in ["top", "right"]:
            ax.spines[s].set_visible(False)
        for s in ["left", "bottom"]:
            ax.spines[s].set_linewidth(0.9)
            ax.spines[s].set_color("#222222")
        ax.set_title(title, fontsize=fs["title"], y=1 + (top - title_y) / h, va="center", pad=0)
        ax.set_xlabel("Steps", fontsize=fs["label"])
        ax.xaxis.set_label_coords(0.5, -(steps_y - bottom) / h)
        ax.xaxis.label.set_va("center")
        if i == 0:
            ax.set_ylabel("Expected Utility", fontsize=fs["ylabel"])
            ax.yaxis.set_label_coords((ylab_x - left) / (right - left), 0.5)
            ax.yaxis.label.set_va("center")


def draw_legend(order, x0, x1, yc, fontsize):
    handles = [Line2D([], [], color=COLORS[n], lw=1.3) for n in order]
    fig.legend(handles, order, loc="center", bbox_to_anchor=(x0 / W, 1 - yc / H, (x1 - x0) / W, 0),
               mode="expand", ncol=len(order), fontsize=fontsize, frameon=True,
               edgecolor="#cccccc", fancybox=True, handlelength=2.0, borderaxespad=0,
               borderpad=0.35, handletextpad=0.8)


FS_SMALL = dict(title=6.2, tick=5.0, label=6.3, ylabel=5.9, lw=0.9)
FS_BIG = dict(title=8.1, tick=7.0, label=8.5, ylabel=8.0, lw=1.1)

# (a)
draw_row([LL_DEFAULT, LL_HIGHGRAVITY, LL_WINDY, LL_TURBULENT, LL_HARD, LL_LOWMAIN, LL_STARTLOW,
          LL_STARTRIGHT], LL_TITLES, LL_STEPS, ORDER_LL,
         [37.2, 168.7, 299.6, 430.4, 561.2, 691.9, 821.9, 953.3],
         [129.1, 260.7, 385.0, 521.7, 652.6, 783.3, 914.4, 1045.4],
         XTICKS_3M, XTICKLABELS_3M, 20, 168.3, 9.3, 183, 14.5, LL_YMAX, LL_YSTEP, FS_SMALL)
draw_legend(ORDER_LL, 210.7, 860.2, 202.5, 7.3)

# (b)
draw_row([HOP_DEFAULT, HOP_LIGHT, HOP_HEAVY, HOP_SLIPPERY, HOP_LOWDAMPING, HOP_HARD], HOP_TITLES,
         HOP_STEPS, ORDER_MUJOCO,
         [52.3, 224.9, 397.7, 570.6, 743.3, 916.0],
         [175.6, 347.1, 520.0, 693.6, 865.9, 1038.6],
         XTICKS_3M, XTICKLABELS_3M, 282.7, 445.7, 270.7, 465.7, 16.5, HOP_YMAX, HOP_YSTEP, FS_BIG)
draw_legend(ORDER_MUJOCO, 120.5, 951, 488.8, 8.1)

# (c)
draw_row([HC_DEFAULT, HC_LIGHT, HC_HEAVY, HC_SLIPPERY, HC_HARD], HC_TITLES, HC_STEPS, ORDER_MUJOCO,
         [52.3, 260.0, 467.3, 674.9, 882.2],
         [209.0, 416.0, 625.0, 831.4, 1038.0],
         XTICKS_5M, XTICKLABELS_5M, 571, 734, 559, 754.3, 16.5, HC_YMAX, HC_YSTEP, FS_BIG)
draw_legend(ORDER_MUJOCO, 120.5, 951, 777.3, 8.1)

# (d)
draw_row([HUM_DEFAULT, HUM_LIGHT, HUM_HEAVY, HUM_LOWDAMPING, HUM_HARD], HUM_TITLES, HUM_STEPS,
         ORDER_MUJOCO,
         [52.3, 260.0, 467.3, 674.6, 881.5],
         [205.6, 413.2, 621.4, 828.0, 1035.2],
         XTICKS_10M, XTICKLABELS_10M, 859, 1022.3, 847, 1042.3, 16.5, HUM_YMAX, HUM_YSTEP, FS_BIG)
draw_legend(ORDER_MUJOCO, 120.5, 951, 1065.7, 8.1)

# (e)
draw_row([SMB_1_2, SMB_3_2, SMB_3_3, SMB_4_3, SMB_5_2, SMB_5_3, SMB_7_3, SMB_8_1], SMB_TITLES,
         SMB_STEPS, ORDER_SMB,
         [35.1, 166.0, 296.8, 427.7, 558.4, 689.2, 819.5, 949.9],
         [128.4, 260.0, 390.2, 521.7, 651.2, 783.0, 913.3, 1044.7],
         XTICKS_3M, XTICKLABELS_3M, 1145, 1268.3, 1135, 1284, 15.5, SMB_YMAX, SMB_YSTEP,
         dict(title=6.3, tick=5.0, label=6.5, ylabel=6.3, lw=0.9))
draw_legend(ORDER_SMB, 371.2, 701, 1306, 7.8)

for cap, yc in zip(CAPTIONS, [244, 529, 820, 1108, 1347]):
    fig.text(530.5 / W, 1 - yc / H, cap, ha="center", va="center", fontsize=17,
             family="Liberation Serif")

fig.savefig("out.png", dpi=100)
